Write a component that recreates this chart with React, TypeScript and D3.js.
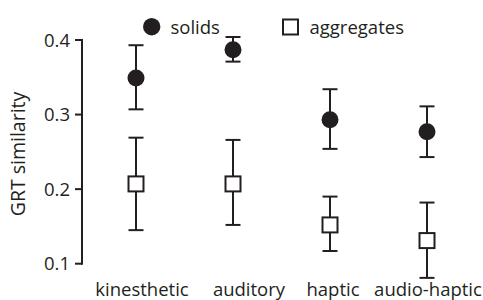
import React from "react";
import * as d3 from "d3";

const categories = ["kinesthetic", "auditory", "haptic", "audio-haptic"];
const solidsMean = [0.349, 0.387, 0.293, 0.277];
const solidsLow = [0.307, 0.371, 0.254, 0.243];
const solidsHigh = [0.393, 0.404, 0.334, 0.311];
const aggMean = [0.207, 0.207, 0.152, 0.131];
const aggLow = [0.145, 0.152, 0.117, 0.081];
const aggHigh = [0.269, 0.266, 0.19, 0.182];
const yTicks = [0.1, 0.2, 0.3, 0.4];

// label nudges (style only)
const labelDx = [6, 16, 3, 1];

const W = 483;
const H = 300;
const FONT = "'Open Sans', 'Noto Sans', sans-serif";
const FS = 18.5;

export default function App() {
  const y = d3.scaleLinear().domain([0.1, 0.4]).range([263.7, 40]);
  const x = d3.scalePoint<string>().domain(categories).range([136, 427]);
  const cap = 7.5;
  const stroke = "#231f20";

  const errBar = (cx: number, lo: number, hi: number, key: string) => (
    <g key={key} stroke={stroke} strokeWidth={2}>
      <line x1={cx} x2={cx} y1={y(lo)} y2={y(hi)} />
      <line x1={cx - cap} x2={cx + cap} y1={y(lo)} y2={y(lo)} />
      <line x1={cx - cap} x2={cx + cap} y1={y(hi)} y2={y(hi)} />
    </g>
  );

  return (
    <svg
      width={W}
      height={H}
      style={{ position: "absolute", left: 0, top: 0 }}
      fontFamily={FONT}
    >
      <rect width={W} height={H} fill="#fff" />
      {/* y axis */}
      <line x1={82} x2={82} y1={y(0.4) - 1} y2={y(0.1) + 1} stroke={stroke} strokeWidth={2} />
      {yTicks.map((t) => (
        <g key={t}>
          <line x1={75} x2={82} y1={y(t)} y2={y(t)} stroke={stroke} strokeWidth={2} />
          <text x={70} y={y(t)} dy="0.36em" textAnchor="end" fontSize={FS} fill={stroke}>
            {d3.format(".1f")(t)}
          </text>
        </g>
      ))}
      <text
        transform={`translate(25,${154}) rotate(-90)`}
        textAnchor="middle"
        fontSize={19.5}
        fill={stroke}
      >
        GRT similarity
      </text>
      {/* x labels */}
      {categories.map((c, i) => (
        <text
          key={c}
          x={x(c)! + labelDx[i]}
          y={296}
          textAnchor="middle"
          fontSize={FS}
          fill={stroke}
        >
          {c}
        </text>
      ))}
      {/* aggregates */}
      {categories.map((c, i) => errBar(x(c)!, aggLow[i], aggHigh[i], "ae" + i))}
      {categories.map((c, i) => (
        <rect
          key={"as" + i}
          x={x(c)! - 7.5}
          y={y(aggMean[i]) - 7.5}
          width={15}
          height={15}
          fill="#fff"
          stroke={stroke}
          strokeWidth={2}
        />
      ))}
      {/* solids */}
      {categories.map((c, i) => errBar(x(c)!, solidsLow[i], solidsHigh[i], "se" + i))}
      {categories.map((c, i) => (
        <circle key={"sc" + i} cx={x(c)!} cy={y(solidsMean[i])} r={8.5} fill={stroke} />
      ))}
      {/* legend */}
      <circle cx={151.7} cy={26.7} r={8.7} fill={stroke} />
      <text x={170.5} y={33.5} fontSize={FS} fill={stroke}>solids</text>
      <rect x={283} y={19.5} width={15} height={15} fill="#fff" stroke={stroke} strokeWidth={2} />
      <text x={309.5} y={33.5} fontSize={FS} fill={stroke}>aggregates</text>
    </svg>
  );
}
